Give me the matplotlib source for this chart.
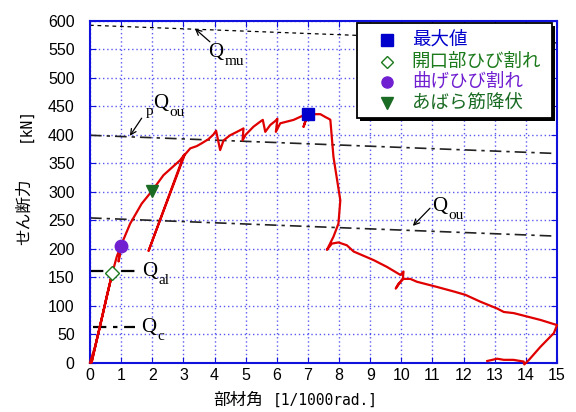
import matplotlib
matplotlib.use("Agg")
import matplotlib.pyplot as plt
from matplotlib.lines import Line2D
from matplotlib.patches import Rectangle

# ---------------- data ----------------
curve_x = [0, 0.16, 0.32, 0.54, 0.72, 0.05, 0.30, 0.55, 0.72, 0.86, 0.99, 0.92, 0.99,
           1.29, 1.66, 2.0, 2.36, 2.89, 3.05, 1.88, 3.0, 3.22, 3.43, 3.59, 3.8, 3.96, 4.05,
           4.18, 4.29, 4.5, 4.72, 4.93, 4.9, 5.0, 5.25, 5.47, 5.55, 5.63, 5.79, 5.95, 6.02,
           5.97, 6.11, 6.54, 6.86, 7.0, 6.86, 7.0, 7.23, 7.4, 7.56, 7.7, 7.72, 7.82, 8.04,
           7.98, 7.82, 7.61, 7.77, 7.98, 8.25, 8.47, 9.11, 9.54, 9.97, 10.07, 10.05, 9.82,
           9.9, 10.07, 10.29, 10.5, 11.14, 11.68, 12.06, 12.54, 13.08, 13.29, 13.61, 14.04,
           14.47, 15.0, 14.9, 14.47, 14.1, 13.95, 13.93, 13.6, 13.29, 13.08, 12.76]
curve_y = [0, 28, 63, 116, 158, 0, 60, 120, 158, 186, 205, 178, 205,
           244, 279, 302, 329, 355, 366, 196, 362, 376, 380, 385, 392, 400, 407,
           373, 390, 399, 405, 411, 390, 400, 414, 423, 426, 405, 417, 424, 428,
           405, 420, 426, 434, 437, 414, 437, 436, 436, 431, 427, 426, 361, 285,
           244, 221, 198, 209, 211, 206, 195, 180, 168, 154, 160, 148, 130,
           138, 147, 147, 142, 133, 125, 119, 107, 95, 89, 87, 81,
           75, 66, 52, 28, 5, -3, 2, 5, 5, 7, 3]

# design strength lines (x endpoints, y endpoints)
qmu_x, qmu_y = [0, 15], [592, 561]
pqou_x, pqou_y = [0, 15], [399, 367]
qou_x, qou_y = [0, 15], [254, 222]
qal_x, qal_y = [0, 1.45], [161, 161]
qc_x, qc_y = [0.1, 1.45], [62, 62]

# event markers
max_pt = (7.0, 437)
open_crack_pt = (0.72, 158)
flex_crack_pt = (0.99, 205)
stirrup_pt = (2.0, 302)

legend_labels = ["最大値", "開口部ひび割れ", "曲げひび割れ", "あばら筋降伏"]
legend_colors = ["#0000CC", "#1B7A1B", "#7020D0", "#1A6B24"]

xticks = list(range(0, 16))
yticks = list(range(0, 601, 50))

# ---------------- plot ----------------
W, H = 576, 412
plt.rcParams['font.family'] = ['Liberation Sans', 'DejaVu Sans']
fig = plt.figure(figsize=(W/100, H/100), dpi=100)
ax = fig.add_axes([90/W, 1-362.7/H, 467/W, 342/H])

def fx(px):
    return px / W

def fy(py):
    return 1 - py / H

ax.set_xlim(0, 15)
ax.set_ylim(0, 600)
ax.set_xticks(xticks)
ax.set_yticks(yticks)
ax.grid(True, color='#2222ee', linestyle=(0, (1, 2)), linewidth=1.0, alpha=0.75)
for s in ax.spines.values():
    s.set_color('#1111dd')
    s.set_linewidth(1.5)
ax.tick_params(direction='in', length=4, color='#1111dd', top=True, right=True,
               labelsize=11.5)
ax.tick_params(axis='y', pad=11)
ax.tick_params(axis='x', pad=4)

ax.plot(qmu_x, qmu_y, color='black', lw=0.9, ls=(0, (3, 3)), zorder=2)
ax.plot(pqou_x, pqou_y, color='#222222', lw=1.2, ls=(0, (7, 3, 2, 3)), zorder=2)
ax.plot(qou_x, qou_y, color='#222222', lw=1.2, ls=(0, (7, 3, 2, 3)), zorder=2)
ax.plot(qal_x, qal_y, color='black', lw=1.6, ls=(0, (6, 3, 2, 3)), zorder=2)
ax.plot(qc_x, qc_y, color='black', lw=1.6, ls=(0, (6, 3, 2, 3)), zorder=2)

ax.plot(curve_x, curve_y, color='#E00000', lw=1.6, zorder=3, clip_on=False)

ax.plot(*max_pt, marker='s', ms=9, color=legend_colors[0], zorder=5, ls='none')
ax.plot(*open_crack_pt, marker='D', ms=7, mfc='white', mec=legend_colors[1], mew=1.0, zorder=5, ls='none')
ax.plot(*flex_crack_pt, marker='o', ms=9, color=legend_colors[2], zorder=5, ls='none')
ax.plot(*stirrup_pt, marker='v', ms=9, color=legend_colors[3], zorder=5, ls='none')

serif = ['Liberation Serif', 'DejaVu Serif']
def qlabel(xq, yq, xs, ys, sub):
    ax.text(xq, yq, "Q", fontsize=15, family=serif, ha='left', va='baseline', zorder=6)
    ax.text(xs, ys, sub, fontsize=11, family=serif, ha='left', va='baseline', zorder=6)

qlabel(3.79, 536, 4.32, 522, "mu")
ax.text(1.80, 434, "p", fontsize=11, family=serif, ha='left', va='baseline')
qlabel(2.02, 447, 2.56, 433, "ou")
qlabel(10.98, 266, 11.52, 252, "ou")
qlabel(1.66, 152, 2.20, 138, "al")
qlabel(1.63, 54, 2.17, 40, "c")

arrow = dict(arrowstyle='->', color='black', lw=0.9, shrinkA=0, shrinkB=0)
ax.annotate("", xy=(3.37, 586), xytext=(3.85, 563), arrowprops=arrow)
ax.annotate("", xy=(1.28, 398), xytext=(1.66, 429), arrowprops=arrow)
ax.annotate("", xy=(10.37, 240), xytext=(10.92, 271), arrowprops=arrow)

# ---- manual legend box ----
bx0, by0, bx1, by1 = 356.7, 23.3, 552.3, 118.3
shadow = Rectangle((fx(bx0 + 3), fy(by1 + 3)), fx(bx1 - bx0), (by1 - by0) / H,
                   transform=fig.transFigure, facecolor='black', edgecolor='none', zorder=20)
box = Rectangle((fx(bx0), fy(by1)), fx(bx1 - bx0), (by1 - by0) / H,
                transform=fig.transFigure, facecolor='white', edgecolor='black',
                linewidth=1.3, zorder=21)
fig.add_artist(shadow)
fig.add_artist(box)
row_y = [40, 61.7, 81.7, 103.3]
marker_specs = [
    dict(marker='s', ms=8, color=legend_colors[0]),
    dict(marker='D', ms=6.5, mfc='white', mec=legend_colors[1], mew=1.0),
    dict(marker='o', ms=8, color=legend_colors[2]),
    dict(marker='v', ms=8, color=legend_colors[3]),
]
cjk = ['Noto Sans CJK JP', 'DejaVu Sans']
for ry, spec, lab, col in zip(row_y, marker_specs, legend_labels, legend_colors):
    fig.add_artist(Line2D([fx(386.7)], [fy(ry)], ls='none', transform=fig.transFigure,
                          zorder=22, **spec))
    fig.text(fx(411.7), fy(ry), lab, color=col, family=cjk, fontsize=13.3,
             ha='left', va='center', zorder=22)

# ---- axis labels ----
fig.text(fx(238), fy(400), "部材角", family=cjk, fontsize=12, ha='center', va='center')
fig.text(fx(325), fy(400), "[1/1000rad.]", family=['DejaVu Sans Mono'], fontsize=10.5,
         ha='center', va='center')
fig.text(fx(25), fy(211.5), "せん断力", family=cjk, fontsize=12, ha='center', va='center',
         rotation=90)
fig.text(fx(25), fy(125), "[kN]", family=['DejaVu Sans Mono'], fontsize=10.5,
         ha='center', va='center', rotation=90)

fig.savefig("out.png", dpi=100)
